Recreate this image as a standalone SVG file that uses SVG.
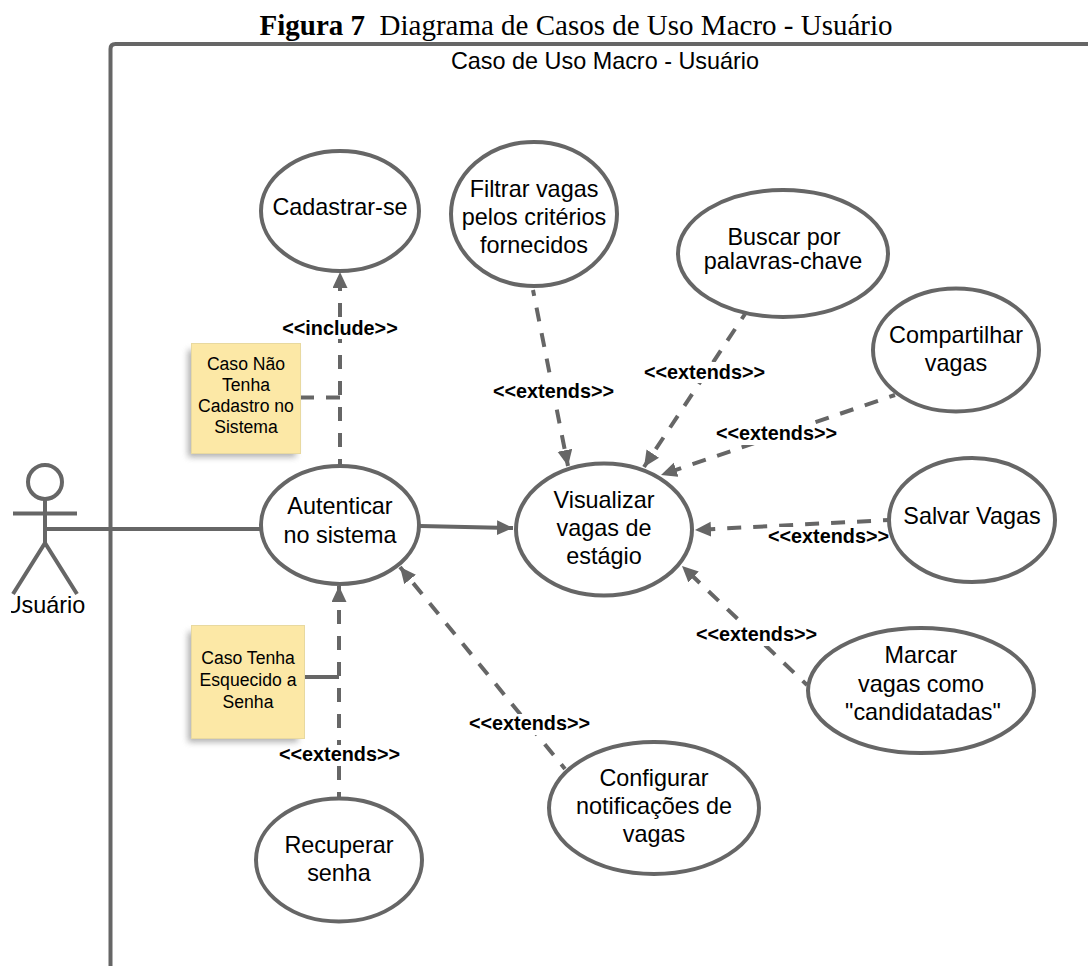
<svg xmlns="http://www.w3.org/2000/svg" width="1088" height="966" viewBox="0 0 1088 966">
<style>
text{font-family:"Liberation Sans",Arial,sans-serif;fill:#000;text-anchor:middle}
.t{font-size:23.4px}
.n{font-size:17.6px}
.l{font-size:19.8px;font-weight:bold}
.c{font-family:"Liberation Serif","Times New Roman",serif;font-size:29px}
.u{fill:#fff;stroke:#666;stroke-width:4}
.s{fill:none;stroke:#666;stroke-width:4}
.d{fill:none;stroke:#666;stroke-width:4;stroke-dasharray:14 12;stroke-dashoffset:8}
.a{marker-end:url(#arrow)}
.b{fill:#fff}
.note{fill:#fce8a6;stroke:#e8d9a0;stroke-width:1}
.sh{fill:#777;opacity:.6;filter:url(#blur)}
</style>
<defs>
<marker id="arrow" markerUnits="userSpaceOnUse" markerWidth="20" markerHeight="18" refX="16" refY="7.500" orient="auto">
<path d="M0,0L16,7.500L0,15Z" fill="#666"/>
</marker>
<filter id="blur" x="-20%" y="-20%" width="140%" height="140%"><feGaussianBlur stdDeviation="3"/></filter>
<clipPath id="uc"><rect x="11" y="585" width="90" height="40"/></clipPath>
</defs>
<text class="c" x="576" y="35"><tspan font-weight="bold">Figura 7</tspan><tspan xml:space="preserve">  Diagrama de Casos de Uso Macro - Usuário</tspan></text>
<g id="frame">
<path class="s" d="M110.500,966V49Q110.500,44 115.500,44H1088"/>
<text class="t" x="605" y="69">Caso de Uso Macro - Usuário</text>
</g>
<g id="connectors">
<path class="s" d="M45,529H261"/>
<path class="s a" d="M420,526L513,528"/>
<path class="d a" d="M340,465V272"/>
<path class="d" style="stroke-dashoffset:0" d="M300,397.500H340"/>
<path class="s" d="M305,677H339"/>
<path class="d a" d="M339,798V586"/>
<path class="d a" d="M533,290L568,466"/>
<path class="d a" d="M745,314L644,467"/>
<path class="d a" d="M895,395L661,475"/>
<path class="d a" d="M889,520L695,530"/>
<path class="d a" d="M807,685L682,566"/>
<path class="d a" d="M565,769L400,567"/>
<rect class="b" x="282" y="318" width="116" height="21"/>
<text class="l" x="340" y="335">&lt;&lt;include&gt;&gt;</text>
<rect class="b" x="493" y="381" width="121" height="21"/>
<text class="l" x="553.500" y="398">&lt;&lt;extends&gt;&gt;</text>
<rect class="b" x="644" y="362" width="121" height="21"/>
<text class="l" x="704.500" y="379">&lt;&lt;extends&gt;&gt;</text>
<rect class="b" x="716" y="424" width="121" height="21"/>
<text class="l" x="776.500" y="440">&lt;&lt;extends&gt;&gt;</text>
<rect class="b" x="768" y="527" width="121" height="20"/>
<text class="l" x="828.500" y="543">&lt;&lt;extends&gt;&gt;</text>
<rect class="b" x="696" y="625" width="121" height="21"/>
<text class="l" x="756.500" y="641">&lt;&lt;extends&gt;&gt;</text>
<rect class="b" x="469" y="714" width="121" height="21"/>
<text class="l" x="529.500" y="730">&lt;&lt;extends&gt;&gt;</text>
<rect class="b" x="279" y="745" width="121" height="21"/>
<text class="l" x="339.500" y="761">&lt;&lt;extends&gt;&gt;</text>
</g>
<g id="actor">
<circle class="s" cx="45" cy="482" r="17"/>
<path class="s" d="M45,499V543M13,513.500H77M13,594L45,543L77,594"/>
<text class="t" x="45" y="613" clip-path="url(#uc)">Usuário</text>
</g>
<g id="cadastrar"><ellipse class="u" cx="340" cy="211" rx="79" ry="60"/><text class="t" x="340" y="215">Cadastrar-se</text></g>
<g id="filtrar"><ellipse class="u" cx="534" cy="214" rx="83" ry="72"/><text class="t" x="534" y="197">Filtrar vagas</text><text class="t" x="534" y="225">pelos critérios</text><text class="t" x="534" y="253">fornecidos</text></g>
<g id="buscar"><ellipse class="u" cx="783" cy="253.500" rx="105" ry="63.500"/><text class="t" x="784" y="245">Buscar por</text><text class="t" x="783" y="269">palavras-chave</text></g>
<g id="compartilhar"><ellipse class="u" cx="956" cy="350" rx="83" ry="61.500"/><text class="t" x="956" y="343">Compartilhar</text><text class="t" x="956" y="371">vagas</text></g>
<g id="salvar"><ellipse class="u" cx="972" cy="520" rx="83" ry="62"/><text class="t" x="972" y="524">Salvar Vagas</text></g>
<g id="visualizar"><ellipse class="u" cx="604" cy="529.500" rx="88" ry="66"/><text class="t" x="604" y="508">Visualizar</text><text class="t" x="604" y="536">vagas de</text><text class="t" x="604" y="564">estágio</text></g>
<g id="autenticar"><ellipse class="u" cx="340" cy="525" rx="79" ry="59"/><text class="t" x="340" y="514">Autenticar</text><text class="t" x="340" y="543">no sistema</text></g>
<g id="marcar"><ellipse class="u" cx="921" cy="690.500" rx="113" ry="62.500"/><text class="t" x="921" y="663">Marcar</text><text class="t" x="921" y="692">vagas como</text><text class="t" x="923" y="720">"candidatadas"</text></g>
<g id="configurar"><ellipse class="u" cx="654" cy="808" rx="105" ry="66"/><text class="t" x="654" y="786">Configurar</text><text class="t" x="654" y="814">notificações de</text><text class="t" x="654" y="842">vagas</text></g>
<g id="recuperar"><ellipse class="u" cx="339" cy="860" rx="83" ry="61.500"/><text class="t" x="339" y="853">Recuperar</text><text class="t" x="339" y="881">senha</text></g>
<g id="note1">
<rect class="sh" x="188" y="350" width="108" height="107"/>
<rect class="note" x="191.500" y="343.500" width="109" height="110"/>
<text class="n" x="246" y="370">Caso Não</text><text class="n" x="246" y="391">Tenha</text><text class="n" x="246" y="412">Cadastro no</text><text class="n" x="246" y="433">Sistema</text>
</g>
<g id="note2">
<rect class="sh" x="188" y="632" width="110" height="110"/>
<rect class="note" x="191.500" y="625.500" width="113" height="113"/>
<text class="n" x="248" y="664">Caso Tenha</text><text class="n" x="248" y="686">Esquecido a</text><text class="n" x="248" y="708">Senha</text>
</g>
</svg>
